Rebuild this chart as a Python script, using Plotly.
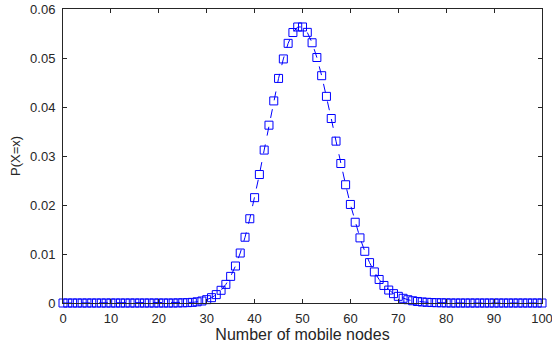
import plotly.graph_objects as go

nodes = list(range(0, 101))
prob = ([0.0] * 24 +
        [0.00002, 0.00004, 0.00007, 0.00013, 0.00024, 0.00041,   # 24-29
         0.00068, 0.00109, 0.00171, 0.00259, 0.00380, 0.00543,   # 30-35
         0.00755, 0.01020, 0.01342, 0.01720, 0.02150, 0.02622,   # 36-41
         0.03121, 0.03629, 0.04124, 0.04583, 0.04981, 0.05299,   # 42-47
         0.05520, 0.05633, 0.05633, 0.05523, 0.05311, 0.05010,   # 48-53
         0.04639, 0.04217, 0.03765, 0.03303, 0.02847, 0.02413,   # 54-59
         0.02011, 0.01648, 0.01329, 0.01055, 0.00824, 0.00634,   # 60-65
         0.00480, 0.00358, 0.00264, 0.00191, 0.00136, 0.00096,   # 66-71
         0.00067, 0.00046, 0.00031, 0.00021, 0.00014, 0.00009,   # 72-77
         0.00006, 0.00004, 0.00002] +                            # 78-80
        [0.0] * 20)

x_ticks = list(range(0, 101, 10))
y_ticks = [0, 0.01, 0.02, 0.03, 0.04, 0.05, 0.06]
y_tick_labels = ["0", "0.01", "0.02", "0.03", "0.04", "0.05", "0.06"]

FONT = "Liberation Sans, Arial, sans-serif"

fig = go.Figure()
fig.add_trace(go.Scatter(
    x=nodes, y=prob, mode="lines+markers",
    line=dict(color="#0000ff", width=1, dash="dash"),
    marker=dict(symbol="square-open", size=8, color="#0000ff",
                line=dict(width=1, color="#0000ff")),
    showlegend=False, cliponaxis=False,
))

axis_common = dict(
    showline=True, linecolor="#262626", linewidth=1, mirror="ticks",
    ticks="inside", ticklen=4, tickcolor="#262626", showgrid=False,
    zeroline=False, automargin=False, ticklabeloverflow="allow",
    tickfont=dict(family=FONT, size=13, color="#262626"),
)

fig.update_layout(
    width=552, height=343,
    margin=dict(l=63, r=10, t=9, b=40, pad=0),
    paper_bgcolor="white", plot_bgcolor="white",
    xaxis=dict(range=[0, 100], tickvals=x_ticks,
               ticklabelstandoff=3,
               title=dict(text="Number of mobile nodes", standoff=1,
                          font=dict(family=FONT, size=16, color="#262626")),
               **axis_common),
    yaxis=dict(range=[0, 0.06], tickvals=y_ticks, ticktext=y_tick_labels,
               ticklabelstandoff=4,
               title=dict(text="P(X=x)", standoff=6,
                          font=dict(family=FONT, size=13, color="#262626")),
               **axis_common),
)

fig.write_html("out.html", config={"displayModeBar": False},
               post_script="document.body.style.margin='0';document.body.style.padding='0';document.body.style.overflow='hidden';")
